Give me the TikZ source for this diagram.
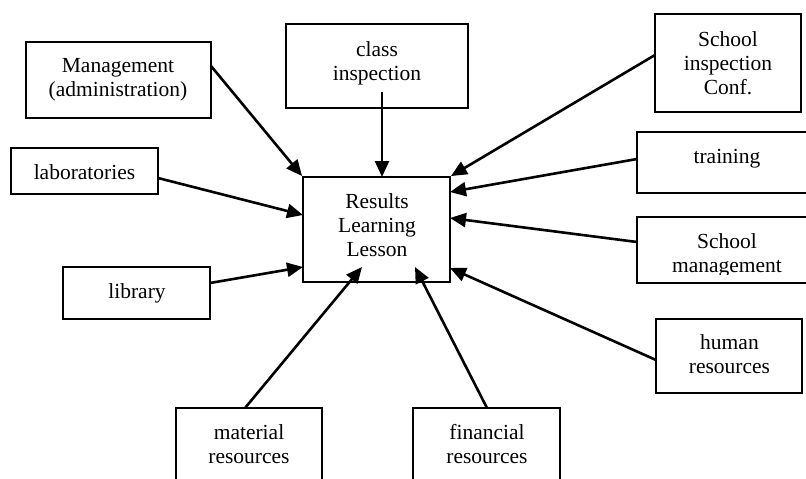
\documentclass[tikz,border=0pt]{standalone}
\usepackage{fontspec}
\setmainfont{Liberation Serif}
\usetikzlibrary{arrows.meta}
\begin{document}
\begin{tikzpicture}[x=1pt,y=-1pt,
  box/.style={draw, line width=1.9pt, inner sep=0pt},
  txt/.style={font=\fontsize{21.5}{24}\selectfont, align=center, inner sep=0pt},
  arr/.style={line width=2.6pt, -{Triangle[length=16pt,width=14pt]}}]
\useasboundingbox (0,0) rectangle (806,479);
\clip (0,0) rectangle (806,479);
\fill[white] (0,0) rectangle (806,479);
% boxes
\node[box, minimum width=147pt, minimum height=105pt] (res) at (376.5,229.5) {};
\node[box, minimum width=185pt, minimum height=76pt] (mgmt) at (118.5,80) {};
\node[box, minimum width=182pt, minimum height=84pt] (cls) at (377,66) {};
\node[box, minimum width=146pt, minimum height=98pt] (sic) at (728,63) {};
\node[box, minimum width=147pt, minimum height=46pt] (lab) at (84.5,171) {};
\node[box, minimum width=180pt, minimum height=61pt] (trn) at (727,162.5) {};
\node[box, minimum width=180pt, minimum height=66pt] (smg) at (727,250) {};
\node[box, minimum width=146pt, minimum height=74pt] (hum) at (729,356) {};
\node[box, minimum width=147pt, minimum height=52pt] (lib) at (136.5,293) {};
\node[box, minimum width=146pt, minimum height=90pt] (mat) at (249,453) {};
\node[box, minimum width=147pt, minimum height=90pt] (fin) at (486.5,453) {};
% texts
\node[txt] (resT) at (377,224.7) {Results\\Learning\\Lesson};
\node[txt] (mgmtT) at (118,79.7) {Management\\(administration)};
\node[txt] (clsT) at (377,63.2) {class\\inspection};
\node[txt] (sicT) at (728,62.7) {School\\inspection\\Conf.};
\node[txt] (labT) at (84.5,172) {laboratories};
\node[txt] (trnT) at (727,159) {training};
\begin{scope}
\clip (637,217) rectangle (806,274);
\node[txt] (smgT) at (727,255) {School\\management};
\end{scope}
\node[txt] (humT) at (729.5,354.5) {human\\resources};
\node[txt] (libT) at (137,293.5) {library};
\node[txt] (matT) at (249,444.2) {material\\resources};
\node[txt] (finT) at (487,444.2) {financial\\resources};
% connector end points
\coordinate (mgmtO) at (211,66);
\coordinate (clsO) at (382,92);
\coordinate (sicO) at (655,55);
\coordinate (labO) at (158,178);
\coordinate (trnO) at (637,159);
\coordinate (smgO) at (637,242);
\coordinate (humO) at (656,360);
\coordinate (libO) at (210,283);
\coordinate (matO) at (245,408);
\coordinate (finO) at (487,408);
\coordinate (clsI) at (382,177);
\coordinate (labI) at (303,215);
\coordinate (libI) at (303,267);
\coordinate (trnI) at (450,192);
\coordinate (smgI) at (450,218);
\coordinate (humI) at (450,268);
\coordinate (matI) at (362,267);
\coordinate (finI) at (415,267);
% connectors
\draw[arr] (mgmtO) -- (res.north west);
\draw[arr] (clsO) -- (clsI);
\draw[arr] (sicO) -- (res.north east);
\draw[arr] (labO) -- (labI);
\draw[arr] (trnO) -- (trnI);
\draw[arr] (smgO) -- (smgI);
\draw[arr] (humO) -- (humI);
\draw[arr] (libO) -- (libI);
\draw[arr] (matO) -- (matI);
\draw[arr] (finO) -- (finI);
\end{tikzpicture}
\end{document}
